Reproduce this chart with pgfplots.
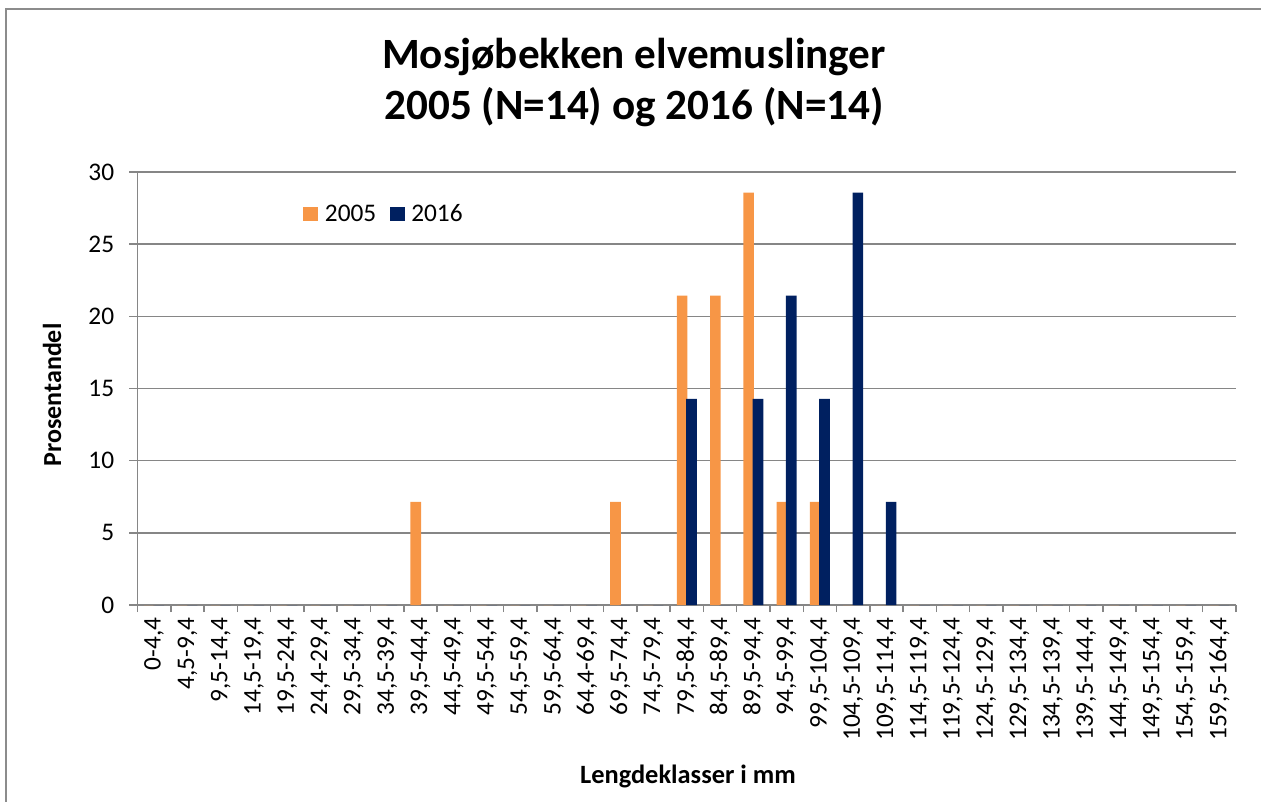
\documentclass[border=0pt]{standalone}
\usepackage{pgfplots}
\pgfplotsset{compat=1.18}
\usepackage{fontspec}
\setmainfont{Carlito}
\definecolor{c05}{HTML}{F79646}
\definecolor{c16}{HTML}{002060}
\definecolor{gridc}{HTML}{868686}
\definecolor{framec}{HTML}{8C8C8C}

\pgfplotstableread{
idx v2005 v2016
0 0 0
1 0 0
2 0 0
3 0 0
4 0 0
5 0 0
6 0 0
7 0 0
8 7.14 0
9 0 0
10 0 0
11 0 0
12 0 0
13 0 0
14 7.14 0
15 0 0
16 21.43 14.29
17 21.43 0
18 28.57 14.29
19 7.14 21.43
20 7.14 14.29
21 0 28.57
22 0 7.14
23 0 0
24 0 0
25 0 0
26 0 0
27 0 0
28 0 0
29 0 0
30 0 0
31 0 0
32 0 0
}\datatable

\begin{document}
\begin{tikzpicture}[x=0.75pt,y=0.75pt]
\useasboundingbox (0,0) rectangle (1261,-801);
\draw[framec, line width=1.5pt] (5.5,-8.5) rectangle (1290,-830);
\begin{axis}[
  at={(103.125pt,-453.75pt)}, anchor=south west, scale only axis,
  width=823.875pt, height=324.75pt,
  xmin=-0.5, xmax=32.5, ymin=0, ymax=30,
  ybar,
  axis x line*=bottom, axis y line*=left,
  axis line style={gridc, line width=1.1pt, -},
  ytick={0,5,...,30},
  ymajorgrids, grid style={gridc, line width=1.1pt},
  xtick={0,...,32},
  xticklabels={{0-4,4},{4,5-9,4},{9,5-14,4},{14,5-19,4},{19,5-24,4},{24,4-29,4},{29,5-34,4},{34,5-39,4},{39,5-44,4},{44,5-49,4},{49,5-54,4},{54,5-59,4},{59,5-64,4},{64,4-69,4},{69,5-74,4},{74,5-79,4},{79,5-84,4},{84,5-89,4},{89,5-94,4},{94,5-99,4},{99,5-104,4},{104,5-109,4},{109,5-114,4},{114,5-119,4},{119,5-124,4},{124,5-129,4},{129,5-134,4},{134,5-139,4},{139,5-144,4},{144,5-149,4},{149,5-154,4},{154,5-159,4},{159,5-164,4}},
  minor xtick={-0.5,0.5,1.5,2.5,3.5,4.5,5.5,6.5,7.5,8.5,9.5,10.5,11.5,12.5,13.5,14.5,15.5,16.5,17.5,18.5,19.5,20.5,21.5,22.5,23.5,24.5,25.5,26.5,27.5,28.5,29.5,30.5,31.5,32.5},
  tick align=outside,
  major tick length=6pt, minor tick length=5.25pt,
  major x tick style={draw=none},
  tick style={gridc, line width=1.1pt},
  minor tick style={gridc, line width=1.1pt},
  /pgf/number format/assume math mode=true,
  tick label style={font=\fontsize{19}{22}\selectfont, text=black},
  xticklabel style={rotate=90, anchor=east},
  yticklabel style={xshift=-8pt},
  legend style={draw=none, fill=none, at={(0.147,0.903)}, anchor=west,
    legend columns=2, font=\fontsize{19}{22}\selectfont,
    /tikz/every odd column/.append style={column sep=3pt},
    /tikz/every even column/.append style={column sep=8pt}},
  legend image code/.code={\fill[#1,draw=none] (0pt,-5.6pt) rectangle (11.25pt,5.6pt);},
  clip=false,
]
\addplot[fill=c05, draw=none, bar width=8pt, bar shift=-3.5pt] table[x=idx, y=v2005] {\datatable};
\addplot[fill=c16, draw=none, bar width=8pt, bar shift=3.5pt] table[x=idx, y=v2016] {\datatable};
\legend{2005,2016}
\end{axis}
\node[font=\fontsize{32.4}{38}\bfseries, anchor=base] at (634,-68) {Mosjøbekken elvemuslinger};
\node[font=\fontsize{32.4}{38}\bfseries, anchor=base] at (634,-119) {2005 (N=14) og 2016 (N=14)};
\node[font=\fontsize{19.8}{22}\bfseries, anchor=base] at (688,-783) {Lengdeklasser i mm};
\node[font=\fontsize{19.5}{22}\bfseries, anchor=base, rotate=90] at (61,-395) {Prosentandel};
\end{tikzpicture}
\end{document}
